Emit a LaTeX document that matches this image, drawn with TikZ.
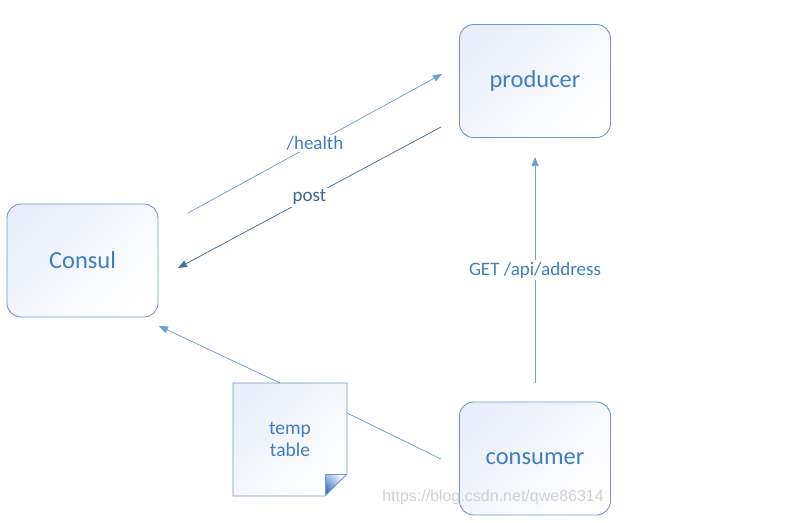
\documentclass[tikz,border=0pt]{standalone}
\usepackage{fontspec}
\setmainfont{Carlito}
\newfontfamily\wmfont{Liberation Sans}
\usetikzlibrary{arrows.meta,shapes.geometric}
\definecolor{boxline}{HTML}{6A9AD0}
\definecolor{boxtext}{HTML}{3F7FC0}
\definecolor{lightarrow}{HTML}{6AA0D8}
\definecolor{darkarrow}{HTML}{44709E}
\definecolor{fillA}{HTML}{E9EEF8}
\definecolor{foldblue}{HTML}{3F74C0}
\tikzset{
  box/.style={draw=boxline, line width=0.9pt, rounded corners=14pt, minimum width=151pt, minimum height=113pt,
    left color=fillA, right color=white, shading angle=45, text=boxtext, font=\fontsize{24.5}{28}\selectfont},
  lbl/.style={fill=white, inner sep=1.5pt, font=\fontsize{19}{22}\selectfont},
  conn/.style={line width=0.75pt},
  tip/.style={-{Triangle[length=9pt,width=7pt]}}
}
\begin{document}
\begin{tikzpicture}[x=1pt,y=-1pt]
\useasboundingbox (0,0) rectangle (792,522);
\node[box] (consul) at (82.5,260.5) {Consul};
\node[box] (producer) at (535,81) {producer};
\node[box] (consumer) at (535,458.5) {consumer};
% note
\coordinate (nA) at (233,383);
\coordinate (nB) at (347,383);
\coordinate (nC) at (347,474);
\coordinate (nD) at (325,496);
\coordinate (nE) at (233,496);
\coordinate (nF) at (325,474);
\shade[left color=fillA, right color=white, shading angle=45] (nA) -- (nB) -- (nC) -- (nD) -- (nE) -- cycle;
\shade[left color=foldblue, right color=white, shading angle=135] (nF) -- (nC) -- (nD) -- cycle;
\draw[draw=boxline, line width=0.9pt, line join=miter] (nA) -- (nB) -- (nC) -- (nD) -- (nE) -- cycle;
\draw[draw=boxline, line width=0.6pt] (nC) -- (nF) -- (nD);
\node[text=boxtext, align=center, font=\fontsize{19.5}{22}\selectfont] (note) at (290,439) {temp\\table};
% coordinates of connector ends
\coordinate (h1) at (188,213);
\coordinate (h2) at (442,74);
\coordinate (p1) at (441,127);
\coordinate (p2) at (178,268);
\coordinate (g1) at (535,383);
\coordinate (g2) at (535,157);
\coordinate (c1) at (441,459);
\coordinate (c2) at (347,413);
\coordinate (t1) at (280,383);
\coordinate (t2) at (159,326);
\draw[conn, lightarrow, tip] (h1) -- node[lbl, text=boxtext] {/health} (h2);
\draw[conn, darkarrow, tip] (p1) -- node[lbl, text=darkarrow!90!black] {post} (p2);
\draw[conn, lightarrow, tip] (g1) -- node[lbl, text=boxtext] {GET /api/address} (g2);
\draw[conn, lightarrow] (c1) -- (c2);
\draw[conn, lightarrow, tip] (t1) -- (t2);
\node[text=black!18, font=\wmfont\fontsize{16}{18}\selectfont, anchor=center] (wm) at (493,497) {https://blog.csdn.net/qwe86314};
\end{tikzpicture}
\end{document}
